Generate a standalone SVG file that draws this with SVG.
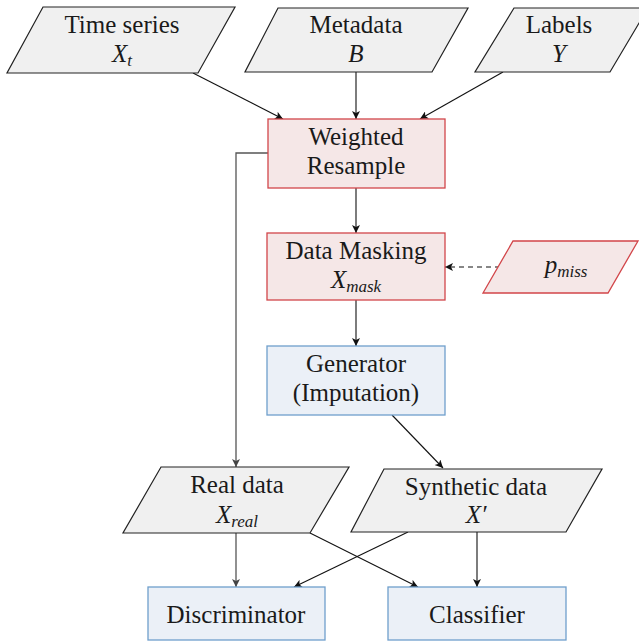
<svg xmlns="http://www.w3.org/2000/svg" width="639" height="641" viewBox="0 0 639 641">
<style>
text{font-size:25px;fill:#1a1a1a;text-anchor:middle}
.m{font-style:italic}
.sub{font-style:italic;font-size:17px}
.data{fill:#f0f0f0;stroke:#222;stroke-width:1.2}
.red{fill:#f5e7e7;stroke:#d2464a;stroke-width:1.3}
.blue{fill:#ebf0f7;stroke:#6f9fcc;stroke-width:1.3}
.c{fill:none;stroke:#111;stroke-width:1.1}
.g{fill:none;stroke:#555;stroke-width:1.3}
</style>
<defs>
<marker id="ah" viewBox="0 0 10 10" refX="10" refY="5" markerWidth="9" markerHeight="8" markerUnits="userSpaceOnUse" orient="auto"><path d="M0,0 L10,5 L0,10 L2.5,5 z" fill="#111"/></marker>
<marker id="ahg" viewBox="0 0 10 10" refX="10" refY="5" markerWidth="9" markerHeight="8" markerUnits="userSpaceOnUse" orient="auto"><path d="M0,0 L10,5 L0,10 L2.5,5 z" fill="#444"/></marker>
</defs>
<g id="connectors">
<path class="c" d="M193,73 L283,119" marker-end="url(#ah)"/>
<path class="c" d="M356,72 L356,119" marker-end="url(#ah)"/>
<path class="c" d="M503,72 L420,119" marker-end="url(#ah)"/>
<path class="g" d="M268,153 L236,153 L236,467" marker-end="url(#ahg)"/>
<path class="c" d="M356,188 L356,233" marker-end="url(#ah)"/>
<path class="c" d="M500,267 L445,267" stroke-dasharray="5,4" marker-end="url(#ah)"/>
<path class="c" d="M356,300 L356,346" marker-end="url(#ah)"/>
<path class="c" d="M392,415 L443,468" marker-end="url(#ah)"/>
<path class="g" d="M236,533 L236,587" marker-end="url(#ahg)"/>
<path class="c" d="M310,533 L418,587" marker-end="url(#ah)"/>
<path class="c" d="M408,532 L294,587" marker-end="url(#ah)"/>
<path class="c" d="M477,532 L477,587" marker-end="url(#ah)"/>
</g>
<g font-family="Liberation Serif, serif">
<g id="timeseries">
<polygon class="data" points="43,7 235,7 198,73 7,73"/>
<text x="122" y="33">Time series</text>
<text x="122" y="62"><tspan class="m">X</tspan><tspan class="sub" dy="4">t</tspan></text>
</g>
<g id="metadata">
<polygon class="data" points="278,8 468,8 432,72 245,72"/>
<text x="356" y="33">Metadata</text>
<text x="356" y="62" class="m">B</text>
</g>
<g id="labels">
<polygon class="data" points="514,8 648,8 610,72 475,72"/>
<text x="559" y="33">Labels</text>
<text x="559" y="62" class="m">Y</text>
</g>
<g id="resample">
<rect class="red" x="268" y="119" width="177" height="69"/>
<text x="356" y="145">Weighted</text>
<text x="356" y="174">Resample</text>
</g>
<g id="masking">
<rect class="red" x="267" y="233" width="178" height="67"/>
<text x="356" y="259">Data Masking</text>
<text x="356" y="288"><tspan class="m">X</tspan><tspan class="sub" dy="4">mask</tspan></text>
</g>
<g id="pmiss">
<polygon class="red" points="513,241 638,241 608,293 483,293"/>
<text x="566" y="273"><tspan class="m">p</tspan><tspan class="sub" dy="4">miss</tspan></text>
</g>
<g id="generator">
<rect class="blue" x="267" y="346" width="178" height="69"/>
<text x="356" y="372">Generator</text>
<text x="356" y="401">(Imputation)</text>
</g>
<g id="realdata">
<polygon class="data" points="161,467 349,467 310,533 123,533"/>
<text x="237" y="493">Real data</text>
<text x="237" y="523"><tspan class="m">X</tspan><tspan class="sub" dy="4">real</tspan></text>
</g>
<g id="synthetic">
<polygon class="data" points="384,469 602,469 566,532 351,532"/>
<text x="476" y="495">Synthetic data</text>
<text x="476" y="523" class="m">X′</text>
</g>
<g id="discriminator">
<rect class="blue" x="148" y="587" width="177" height="53"/>
<text x="236" y="623">Discriminator</text>
</g>
<g id="classifier">
<rect class="blue" x="388" y="587" width="178" height="53"/>
<text x="477" y="623">Classifier</text>
</g>
</g>
</svg>
